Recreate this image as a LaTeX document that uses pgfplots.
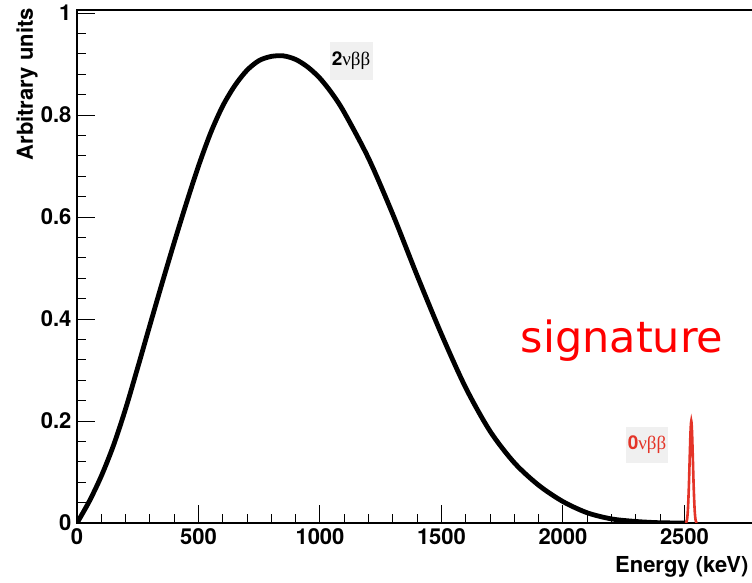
\documentclass[border=0pt]{standalone}
\usepackage{fontspec}
\setmainfont{TeX Gyre Heros}
\newfontfamily\greekfont{Liberation Serif}
\newfontfamily\comicfont{DejaVu Sans}
\usepackage{pgfplots}
\pgfplotsset{compat=1.18}
\definecolor{peakred}{RGB}{228,52,40}
\definecolor{boxgray}{RGB}{240,240,240}
\pgfplotstableread{
E v
0 0
50 0.042
100 0.092
150 0.152
200 0.224
250 0.305
300 0.388
350 0.470
400 0.550
450 0.627
500 0.700
550 0.765
600 0.818
650 0.858
700 0.888
750 0.907
800 0.915
850 0.916
900 0.909
950 0.894
1000 0.872
1050 0.842
1100 0.805
1200 0.715
1300 0.605
1400 0.485
1500 0.370
1600 0.265
1700 0.180
1800 0.118
1900 0.074
2000 0.042
2100 0.020
2200 0.008
2300 0.003
2400 0.0005
2510 0.0
}\twonu
\pgfplotstableread{
E v
2505 0
2510 0.005
2514 0.025
2518 0.070
2522 0.135
2525 0.180
2528 0.200
2531 0.180
2534 0.135
2538 0.070
2542 0.025
2546 0.005
2551 0
}\zeronu
\begin{document}
\begin{tikzpicture}
\path[use as bounding box] (-77pt,-60pt) rectangle (675pt,523pt);
\begin{axis}[
  scale only axis, width=675.5pt, height=513pt,
  xmin=0, xmax=2780, ymin=0, ymax=1.006,
  axis line style={line width=1.3pt},
  tick align=inside, xtick pos=bottom, ytick pos=left,
  xtick={0,500,1000,1500,2000,2500},
  ytick={0,0.2,0.4,0.6,0.8,1},
  minor x tick num=4, minor y tick num=4,
  major tick length=18pt, minor tick length=9pt,
  tick style={line width=1pt, black},
  scaled ticks=false,
  /pgf/number format/assume math mode=true,
  /pgf/number format/1000 sep={},
  ticklabel style={font=\fontsize{22}{22}\selectfont\bfseries},
  xticklabel style={yshift=-2pt},
  yticklabel style={xshift=-2pt},
  xlabel={Energy (keV)},
  ylabel={Arbitrary units},
  every axis x label/.style={at={(axis description cs:1,0)}, anchor=base east, inner sep=0pt, yshift=-49pt, xshift=-4pt, font=\fontsize{22}{22}\selectfont\bfseries},
  every axis y label/.style={at={(axis description cs:-0.074,1.004)}, anchor=east, rotate=90, inner sep=0pt, font=\fontsize{22}{22}\selectfont\bfseries},
]
\addplot[black, line width=4.8pt, smooth] table[x=E, y=v] {\twonu};
\addplot[peakred, line width=2.6pt, smooth] table[x=E, y=v] {\zeronu};
\node[fill=boxgray, inner sep=0pt, minimum width=43pt, minimum height=38pt, font=\fontsize{19}{19}\selectfont] at (axis cs:1128,0.906) {\textbf{2}{\greekfont νββ}};
\node[fill=boxgray, inner sep=0pt, minimum width=42pt, minimum height=36pt, text=peakred, font=\fontsize{19}{19}\selectfont] at (axis cs:2346,0.153) {\textbf{0}{\greekfont νββ}};
\node[anchor=base, text=red, font=\comicfont\fontsize{43}{43}\selectfont] at (axis cs:2243,0.335) {signature};
\end{axis}
\end{tikzpicture}
\end{document}
